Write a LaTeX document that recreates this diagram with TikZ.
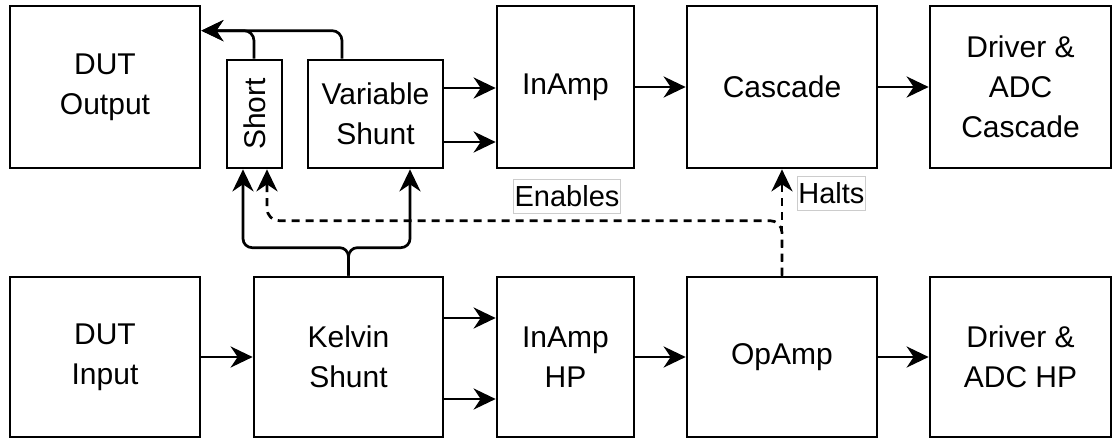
\documentclass[tikz,border=0pt]{standalone}
\usepackage{fontspec}
\setmainfont{Liberation Sans}
\usetikzlibrary{arrows.meta}

\tikzset{
  blk/.style={draw,line width=2.7pt,align=center,inner sep=0pt,
    font=\fontsize{30}{40}\selectfont},
  note/.style={draw=black!20,line width=0.8pt,fill=white,inner xsep=1pt,
    inner ysep=0pt,minimum height=34pt,font=\fontsize{29}{39}\selectfont},
  wire/.style={->,line width=2.7pt},
  ctrl/.style={wire,dash pattern=on 8pt off 6pt}
}

\begin{document}
\begin{tikzpicture}[x=1pt,y=-1pt,>={Stealth[length=22pt,width=21pt,inset=7pt]}]
  \useasboundingbox (0,0) rectangle (1113,439);

  % top row: measurement path
  \node[blk,minimum width=190pt,minimum height=162pt] (dutout) at (105,87)
    {DUT\\Output};
  \node[blk,rotate=90,minimum width=108pt,minimum height=55pt] (short)
    at (254.5,114) {Short};
  \node[blk,minimum width=135pt,minimum height=108pt] (vshunt) at (375.5,114)
    {Variable\\Shunt};
  \node[blk,minimum width=137pt,minimum height=162pt] (inamp) at (565.5,87)
    {InAmp};
  \node[blk,minimum width=190pt,minimum height=162pt] (cascade) at (782,87)
    {Cascade};
  \node[blk,minimum width=181pt,minimum height=162pt] (drvcas) at (1020.5,87)
    {Driver \&\\ADC\\Cascade};

  % bottom row: input path
  \node[blk,minimum width=190pt,minimum height=160pt] (dutin) at (105,357)
    {DUT\\Input};
  \node[blk,minimum width=189pt,minimum height=160pt] (kelvin) at (348.5,357)
    {Kelvin\\Shunt};
  \node[blk,minimum width=137pt,minimum height=160pt] (inamphp) at (565.5,357)
    {InAmp\\HP};
  \node[blk,minimum width=190pt,minimum height=160pt] (opamp) at (782,357)
    {OpAmp};
  \node[blk,minimum width=181pt,minimum height=160pt] (drvhp) at (1020.5,357)
    {Driver \&\\ADC HP};

  \node[note] (enlab) at (567,196) {Enables};
  \node[note,anchor=west] (hallab) at (797,193.5) {Halts};

  % signal flow
  \draw[wire] (dutin) -- (kelvin);
  \draw[wire] ([yshift=39pt]kelvin.east) -- ([yshift=39pt]inamphp.west);
  \draw[wire] ([yshift=-42pt]kelvin.east) -- ([yshift=-42pt]inamphp.west);
  \draw[wire] (inamphp) -- (opamp);
  \draw[wire] (opamp) -- (drvhp);
  \draw[wire] ([yshift=26pt]vshunt.east) -- ([yshift=26pt]inamp.west |- vshunt.east);
  \draw[wire] ([yshift=-28pt]vshunt.east) -- ([yshift=-28pt]inamp.west |- vshunt.east);
  \draw[wire] (inamp) -- (cascade);
  \draw[wire] (cascade) -- (drvcas);

  % return to the DUT
  \draw[wire,rounded corners=10pt] ([xshift=-0.5pt]short.east) |-
    ([yshift=-26pt]dutout.north east);
  \draw[wire,rounded corners=10pt] ([xshift=-33.5pt]vshunt.north) |-
    ([yshift=-26pt]dutout.north east);

  % kelvin sense lines
  \draw[wire,rounded corners=9pt] (kelvin.north) -- ++(0,-28) -|
    ([xshift=-11.5pt]short.west);
  \draw[wire,rounded corners=9pt] (kelvin.north) -- ++(0,-28) -|
    ([xshift=34.5pt]vshunt.south);

  % enable / halt control
  \draw[ctrl] (opamp.north) -- (cascade.south);
  \draw[ctrl,rounded corners=12pt] (opamp.north) -- ++(0,-55) -|
    ([xshift=12.5pt]short.west);
\end{tikzpicture}
\end{document}
